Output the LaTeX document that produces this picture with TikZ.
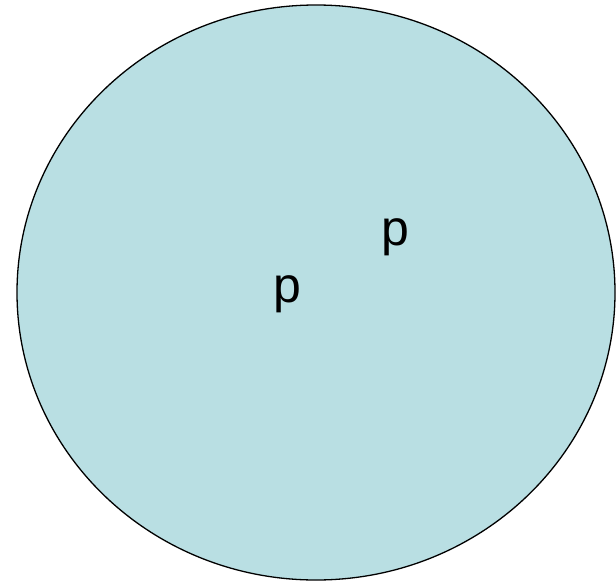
\documentclass[tikz,border=0pt]{standalone}
\usepackage{fontspec}
\setmainfont{Liberation Sans}
\definecolor{disk}{HTML}{B9DFE3}
\tikzset{lbl/.style={inner sep=0pt, anchor=base, font=\fontsize{50}{60}\selectfont}}
\begin{document}
\begin{tikzpicture}[x=1pt,y=-1pt]
\useasboundingbox (0,0) rectangle (616,584);
\draw[fill=disk, draw=black, line width=1.3pt] (316,292.5) ellipse [x radius=299, y radius=287.5];
\node[lbl] (p1) at (287.5,302) {p};
\node[lbl] (p2) at (395,245) {p};
\end{tikzpicture}
\end{document}
